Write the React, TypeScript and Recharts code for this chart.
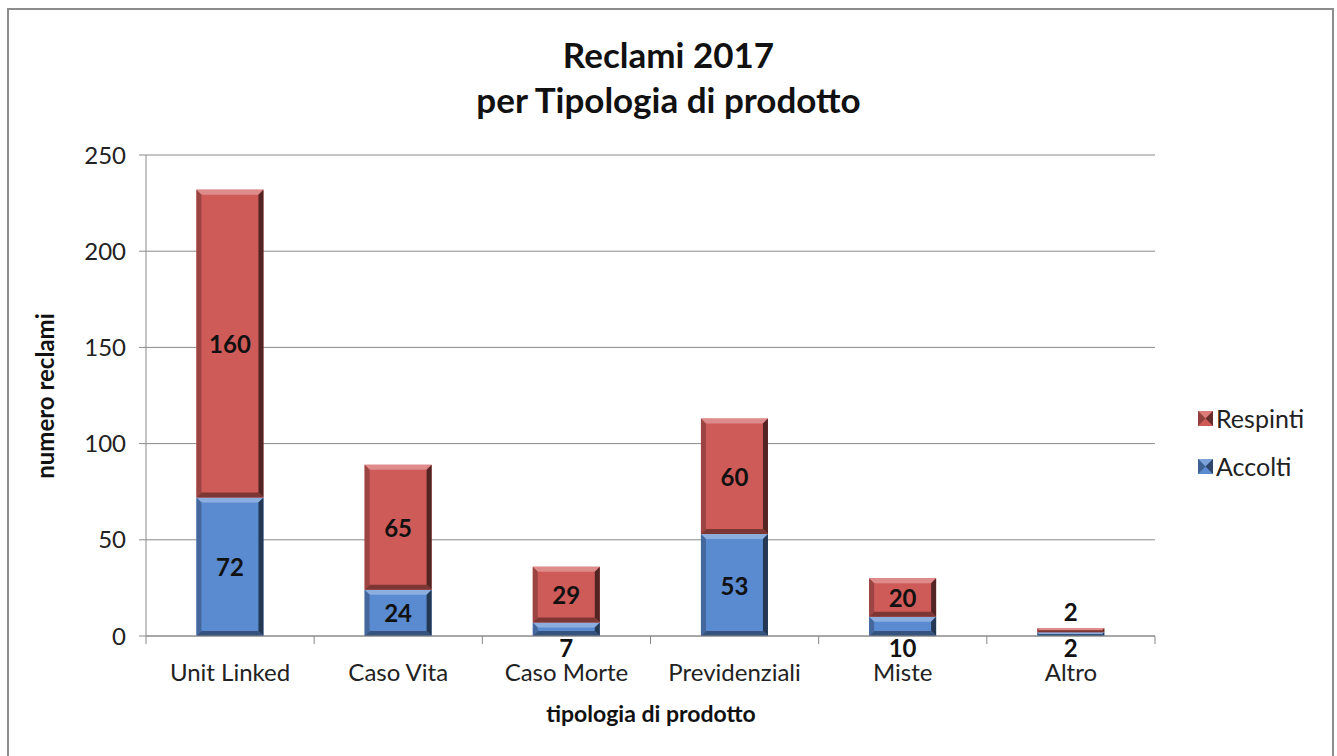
import React from "react";
import { BarChart, Bar, XAxis, YAxis, CartesianGrid, LabelList } from "recharts";

const categories = ["Unit Linked", "Caso Vita", "Caso Morte", "Previdenziali", "Miste", "Altro"];
const accolti = [72, 24, 7, 53, 10, 2];
const respinti = [160, 65, 29, 60, 20, 2];
const yTicks = [0, 50, 100, 150, 200, 250];

const data = categories.map((name, i) => ({ name, accolti: accolti[i], respinti: respinti[i] }));

const FONT = "Lato, 'Open Sans', sans-serif";
const RED = "#cf5b59";
const BLUE = "#5a8bd1";
const PLOT_LEFT = 146;
const PLOT_RIGHT = 1155;
const AXIS_Y = 636;
const BAND = (PLOT_RIGHT - PLOT_LEFT) / categories.length;

const shade = (hex: string, k: number) => {
  const n = parseInt(hex.slice(1), 16);
  const f = (c: number) => Math.max(0, Math.min(255, Math.round(k > 0 ? c + (255 - c) * k : c * (1 + k))));
  const r = f((n >> 16) & 255), g = f((n >> 8) & 255), b = f(n & 255);
  return `rgb(${r},${g},${b})`;
};

const BevelBar = (props: any) => {
  const { x, y, width, height, fill } = props;
  if (!height || height <= 0) return null;
  const b = Math.min(5, height / 2);
  return (
    <g>
      <rect x={x} y={y} width={width} height={height} fill={fill} />
      <polygon points={`${x},${y} ${x + width},${y} ${x + width - b},${y + b} ${x + b},${y + b}`} fill={shade(fill, 0.3)} />
      <polygon points={`${x},${y} ${x + b},${y + b} ${x + b},${y + height - b} ${x},${y + height}`} fill={shade(fill, -0.25)} />
      <polygon points={`${x + width},${y} ${x + width},${y + height} ${x + width - b},${y + height - b} ${x + width - b},${y + b}`} fill={shade(fill, -0.6)} />
      <polygon points={`${x},${y + height} ${x + width},${y + height} ${x + width - b},${y + height - b} ${x + b},${y + height - b}`} fill={shade(fill, -0.4)} />
    </g>
  );
};

// small segments get their label outside the bar, as in the original
const makeLabel = (where: "below" | "above") => (props: any) => {
  const { x, y, width, height, value } = props;
  let cy = y + height / 2;
  if (height < 30) cy = where === "below" ? AXIS_Y + 11 : y - 17;
  return (
    <text x={x + width / 2} y={cy} textAnchor="middle" dominantBaseline="central" fontFamily={FONT} fontWeight={700} fontSize={24} fill="#111">
      {value}
    </text>
  );
};

const CatTick = (props: any) => {
  const { x, y, payload, index } = props;
  return (
    <g>
      <line x1={x - BAND / 2} x2={x - BAND / 2} y1={AXIS_Y} y2={AXIS_Y + 8} stroke="#888" />
      {index === categories.length - 1 && (
        <line x1={x + BAND / 2} x2={x + BAND / 2} y1={AXIS_Y} y2={AXIS_Y + 8} stroke="#888" />
      )}
      <text x={x} y={y + 37} textAnchor="middle" fontFamily={FONT} fontSize={24} fill="#222">
        {payload.value}
      </text>
    </g>
  );
};

const LegendSwatch = ({ color }: { color: string }) => (
  <svg width={15} height={15} style={{ marginRight: 3 }}>
    <rect x={0} y={0} width={15} height={15} fill={color} />
    <polygon points="0,0 15,0 7.5,7.5" fill={shade(color, 0.2)} />
    <polygon points="15,0 15,15 7.5,7.5" fill={shade(color, -0.5)} />
    <polygon points="0,0 0,15 7.5,7.5" fill={shade(color, -0.3)} />
  </svg>
);

export default function App() {
  return (
    <div style={{ position: "absolute", left: 0, top: 0, width: 1337, height: 756, overflow: "hidden", background: "#fff", fontFamily: FONT }}>
      <div style={{ position: "absolute", left: 7, top: 8, width: 1323, height: 770, border: "2px solid #8c8c8c" }} />
      <div style={{ position: "absolute", left: 0, top: 32, width: 1337, textAlign: "center", fontWeight: 700, fontSize: 35, lineHeight: "45px", color: "#111" }}>
        Reclami 2017
        <br />
        per Tipologia di prodotto
      </div>
      <div style={{ position: "absolute", left: 0, top: 0 }}>
        <BarChart width={1337} height={756} data={data} margin={{ top: 155, right: 1337 - PLOT_RIGHT, bottom: 20, left: PLOT_LEFT - 90 }} barCategoryGap="30%">
          <CartesianGrid vertical={false} stroke="#8a8a8a" />
          <XAxis dataKey="name" axisLine={{ stroke: "#8a8a8a" }} tickLine={false} height={100} tick={<CatTick />} interval={0} />
          <YAxis
            width={90}
            domain={[0, 250]}
            ticks={yTicks}
            axisLine={{ stroke: "#8a8a8a" }}
            tickLine={{ stroke: "#8a8a8a" }}
            tickSize={7}
            tickMargin={13}
            tick={{ fontFamily: FONT, fontSize: 24, fill: "#222" }}
          />
          <Bar dataKey="accolti" stackId="a" fill={BLUE} shape={<BevelBar />} isAnimationActive={false}>
            <LabelList dataKey="accolti" content={makeLabel("below")} />
          </Bar>
          <Bar dataKey="respinti" stackId="a" fill={RED} shape={<BevelBar />} isAnimationActive={false}>
            <LabelList dataKey="respinti" content={makeLabel("above")} />
          </Bar>
        </BarChart>
      </div>
      <div style={{ position: "absolute", left: 44, top: 396, transform: "translate(-50%, -50%) rotate(-90deg)", fontWeight: 700, fontSize: 24, whiteSpace: "nowrap", color: "#111" }}>
        numero reclami
      </div>
      <div style={{ position: "absolute", left: 651, top: 713, transform: "translate(-50%, -50%)", fontWeight: 700, fontSize: 23, whiteSpace: "nowrap", color: "#111" }}>
        tipologia di prodotto
      </div>
      <div style={{ position: "absolute", left: 1198, top: 402, fontSize: 25, color: "#222", lineHeight: "32px" }}>
        <div style={{ display: "flex", alignItems: "center" }}>
          <LegendSwatch color={RED} />
          Respinti
        </div>
        <div style={{ display: "flex", alignItems: "center", marginTop: 16 }}>
          <LegendSwatch color={BLUE} />
          Accolti
        </div>
      </div>
    </div>
  );
}
